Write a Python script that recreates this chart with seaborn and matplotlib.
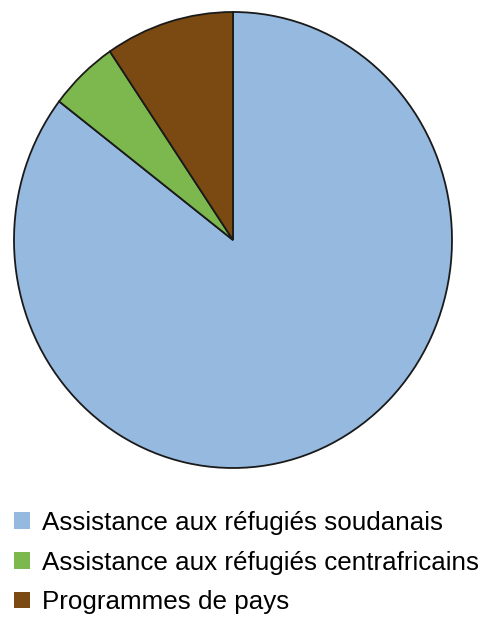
import matplotlib
matplotlib.use("Agg")
import matplotlib.pyplot as plt
import matplotlib.patches as mpatches
import seaborn as sns

categories = ["Assistance aux réfugiés soudanais",
              "Assistance aux réfugiés centrafricains",
              "Programmes de pays"]
values = [85.4, 5.1, 9.5]
colors = ["#95B9DF", "#7DB84F", "#7B4A12"]

sns.set_theme(style="white")
plt.rcParams['font.family'] = ['Liberation Sans', 'DejaVu Sans']

W, H = 481, 628
fig = plt.figure(figsize=(W / 100, H / 100), dpi=100)
fig.patch.set_facecolor("white")

left, right, top, bottom = 14, 452, 12, 468
ax = fig.add_axes([left / W, (H - bottom) / H, (right - left) / W, (bottom - top) / H])
ax.pie(values, colors=colors, startangle=90, counterclock=False,
       wedgeprops=dict(edgecolor="#1a1a1a", linewidth=1.3))
ax.set_aspect("auto")
ax.set_xlim(-1, 1)
ax.set_ylim(-1, 1)
ax.axis("off")

handles = [mpatches.Patch(facecolor=c, edgecolor="none") for c in colors]
leg = fig.legend(handles, categories, loc="upper left",
                 bbox_to_anchor=(14 / W, 1 - 511 / H),
                 frameon=False, fontsize=18.7, handlelength=0.62, handleheight=0.62,
                 handletextpad=0.46, labelspacing=0.6, borderaxespad=0, borderpad=0,
                 labelcolor="black")

fig.savefig("out.png", dpi=100)
